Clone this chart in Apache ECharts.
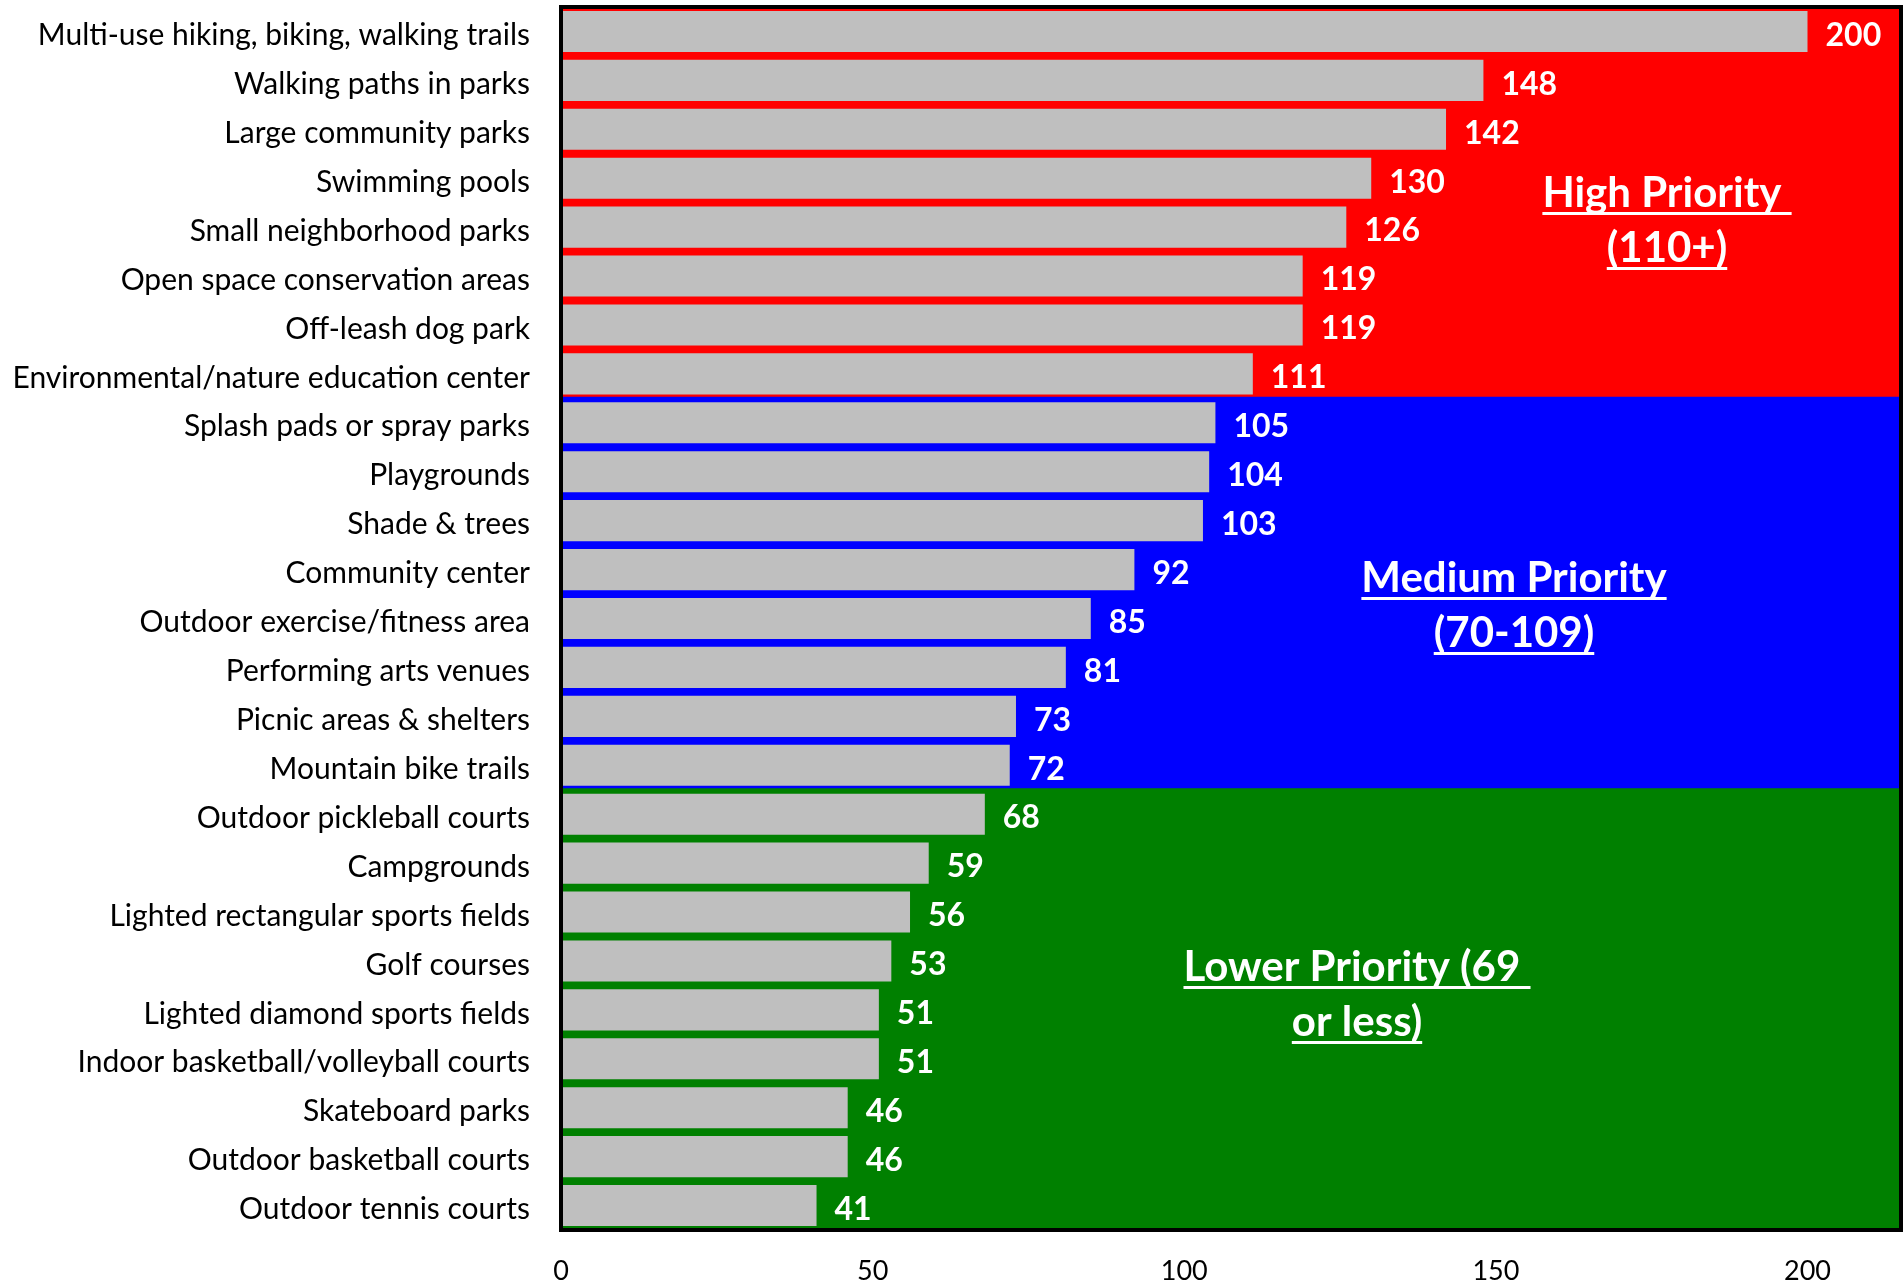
<!DOCTYPE html>
<html><head><meta charset="utf-8">
<script src="https://cdn.jsdelivr.net/npm/echarts@6/dist/echarts.min.js"></script>
<style>html,body{margin:0;padding:0;background:#fff}#c{width:1904px;height:1285px}</style>
</head><body><div id="c"></div>
<script>
const categories = [
  'Multi-use hiking, biking, walking trails',
  'Walking paths in parks',
  'Large community parks',
  'Swimming pools',
  'Small neighborhood parks',
  'Open space conservation areas',
  'Off-leash dog park',
  'Environmental/nature education center',
  'Splash pads or spray parks',
  'Playgrounds',
  'Shade & trees',
  'Community center',
  'Outdoor exercise/fitness area',
  'Performing arts venues',
  'Picnic areas & shelters',
  'Mountain bike trails',
  'Outdoor pickleball courts',
  'Campgrounds',
  'Lighted rectangular sports fields',
  'Golf courses',
  'Lighted diamond sports fields',
  'Indoor basketball/volleyball courts',
  'Skateboard parks',
  'Outdoor basketball courts',
  'Outdoor tennis courts'
];
const values = [200,148,142,130,126,119,119,111,105,104,103,92,85,81,73,72,68,59,56,53,51,51,46,46,41];
const priorityGroups = [
  'high','high','high','high','high','high','high','high',
  'medium','medium','medium','medium','medium','medium','medium','medium',
  'low','low','low','low','low','low','low','low','low'
];
const xTickValues = [0,50,100,150,200];
const xAxisMax = 215;
const annotationHigh = ['High Priority ', '(110+)'];
const annotationMedium = ['Medium Priority', '(70-109)'];
const annotationLow = ['Lower Priority (69 ', 'or less)'];

const groupColors = {high:'#FF0000', medium:'#0000FF', low:'#008000'};
const chart = echarts.init(document.getElementById('c'), null, {renderer:'canvas'});

const annFont = 'bold 42px Lato';
const cv = document.createElement('canvas').getContext('2d');
cv.font = annFont;
function annGraphic(lines, cx, cy, gap){
  const els = [];
  lines.forEach((t, i) => {
    const y = cy + i*gap;
    const w = cv.measureText(t).width;
    els.push({type:'text', left: cx - w/2, top: y - 20, z: 50,
      style:{text:t, font: annFont, fill:'#fff'}});
    els.push({type:'rect', shape:{x: cx - w/2, y: y + 20, width: w, height: 3}, z: 50,
      style:{fill:'#fff'}});
  });
  return els;
}

const option = {
  animation: false,
  grid: {left: 561, right: 3, top: 7, bottom: 53, show: true, borderColor: '#000', borderWidth: 4,
         backgroundColor: 'transparent', z: 10, containLabel: false},
  xAxis: {type:'value', min: 0, max: xAxisMax, interval: 50,
    axisLine:{show:false}, axisTick:{show:false}, splitLine:{show:false},
    axisLabel:{margin: 28, color:'#000', fontFamily:'Lato', fontSize: 27,
      formatter: v => xTickValues.indexOf(v) >= 0 ? String(v) : ''}},
  yAxis: [
    {type:'category', data: categories, inverse: true,
     axisLine:{show:false}, axisTick:{show:false}, splitLine:{show:false}, splitArea:{show:false},
     axisLabel:{margin: 31, color:'#000', fontFamily:'Lato', fontSize: 30,
       formatter: v => '{a|' + v + '}',
       rich:{a:{color:'#000', fontFamily:'Lato', fontSize:30, padding:[8,0,0,0]}}}},
    {type:'category', data: categories, inverse: true, show: false,
     splitLine:{show:false}, splitArea:{show:false}}
  ],
  series: [
    {type:'bar', yAxisIndex: 1, z: -1, barWidth: 52, silent: true,
     data: categories.map((c,i) => ({value: xAxisMax, itemStyle:{color: groupColors[priorityGroups[i]]}}))},
    {type:'bar', yAxisIndex: 0, z: 2, barCategoryGap: '16%',
     itemStyle:{color:'#BFBFBF'},
     label:{show:true, position:'right', distance: 18, offset:[0,4], color:'#fff', fontFamily:'Lato', fontWeight:'bold', fontSize: 32},
     data: values}
  ],
  graphic: [].concat(
    annGraphic(annotationHigh, 1667, 192, 55),
    annGraphic(annotationMedium, 1514, 577, 55),
    annGraphic(annotationLow, 1357, 966, 55)
  )
};
chart.setOption(option);
</script>
</body></html>
